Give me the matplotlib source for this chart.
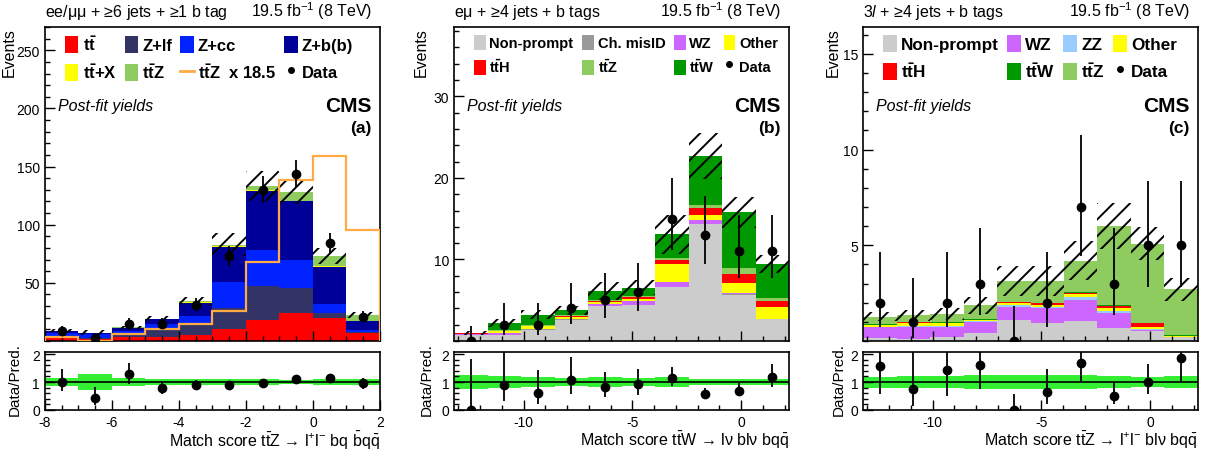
import numpy as np
import matplotlib
matplotlib.use("Agg")
import matplotlib.pyplot as plt
from matplotlib.patches import Patch
from matplotlib.lines import Line2D
from matplotlib.ticker import MultipleLocator

plt.rcParams['font.family'] = ['Liberation Sans', 'DejaVu Sans']
plt.rcParams['mathtext.fontset'] = 'custom'
plt.rcParams['mathtext.rm'] = 'Liberation Sans'
plt.rcParams['mathtext.it'] = 'Liberation Sans:italic'
plt.rcParams['mathtext.bf'] = 'Liberation Sans:bold'
plt.rcParams['hatch.linewidth'] = 1.4
plt.rcParams['axes.unicode_minus'] = False

# ---- panel (a): ee/mumu + >=6 jets + >=1 b tag
edges_a = [-8, -7, -6, -5, -4, -3, -2, -1, 0, 1, 2]
tt_a = [3.2, 1.5, 3.7, 3.2, 5.2, 10, 18, 24, 20, 7]
zlf_a = [1.0, 1.0, 2.6, 7.5, 9.4, 18, 29, 22, 4, 1]
zcc_a = [2.5, 3.5, 2.6, 4.3, 7.0, 23, 31, 24, 8, 1.5]
zbb_a = [2.0, 1.0, 2.5, 3.5, 11.5, 30, 51.2, 50, 32, 7.3]
ttx_a = [0.05, 0.05, 0.1, 0.1, 0.2, 0.3, 0.4, 0.5, 0.5, 0.2]
ttz_a = [0.2, 0.0, 0.32, 0.55, 0.8, 1.4, 3.65, 7.5, 8.62, 5.14]
unc_a = [1.2, 2.1, 1.5, 2.0, 4.0, 10, 13, 10, 7, 2.5]
data_a = [9, 3, 15, 15, 31, 73, 130, 144, 84, 21]
dlo_a = [6.0, 1.37, 11.1, 11.1, 25.5, 64.5, 119, 132, 75, 16.5]
dhi_a = [13.1, 5.92, 20.0, 20.0, 36.6, 81.5, 141.5, 156, 93, 25.6]
ttz_scale = 18.5

# ---- panel (b): e mu + >=4 jets + b tags
edges_bc = [-13.2, -11.66, -10.12, -8.58, -7.04, -5.5, -3.96, -2.42, -0.88, 0.66, 2.2]
np_b = [0.75, 0.75, 1.4, 2.6, 4.3, 4.4, 6.6, 14.3, 5.7, 2.7]
misid_b = [0.02, 0.02, 0.05, 0.05, 0.05, 0.05, 0.05, 0.05, 0.05, 0.0]
wz_b = [0.03, 0.15, 0.05, 0.05, 0.2, 0.4, 0.55, 0.45, 0.15, 0.05]
other_b = [0.1, 0.3, 0.3, 0.3, 0.25, 0.3, 2.2, 0.6, 1.2, 1.45]
tth_b = [0.02, 0.05, 0.05, 0.1, 0.1, 0.2, 0.5, 0.9, 1.1, 0.7]
ttz_b = [0.03, 0.1, 0.1, 0.1, 0.1, 0.15, 0.3, 0.4, 0.8, 0.4]
ttw_b = [0.05, 0.85, 1.27, 0.55, 1.1, 1.05, 2.9, 6.0, 6.8, 4.1]
unc_b = [0.25, 0.45, 0.55, 0.6, 1.1, 0.9, 2.4, 2.8, 1.9, 1.1]
data_b = [0, 2, 2, 4, 5, 6, 15, 13, 11, 11]
dlo_b = [0, 0.71, 0.71, 2.09, 2.84, 3.62, 11.1, 9.4, 7.7, 7.7]
dhi_b = [1.84, 4.64, 4.64, 7.16, 8.38, 9.58, 19.97, 17.8, 15.4, 15.4]

# ---- panel (c): 3l + >=4 jets + b tags
np_c = [0.14, 0.1, 0.2, 0.4, 1.1, 0.96, 1.04, 0.66, 0.5, 0.2]
wz_c = [0.57, 0.65, 0.55, 0.6, 0.69, 0.76, 1.1, 0.81, 0.07, 0.03]
zz_c = [0.02, 0.02, 0.02, 0.02, 0.08, 0.08, 0.17, 0.11, 0.05, 0.0]
other_c = [0.1, 0.18, 0.15, 0.06, 0.09, 0.1, 0.13, 0.12, 0.13, 0.01]
tth_c = [0.03, 0.03, 0.03, 0.04, 0.06, 0.06, 0.08, 0.15, 0.18, 0.04]
ttw_c = [0.02, 0.02, 0.02, 0.02, 0.04, 0.04, 0.02, 0.05, 0.03, 0.01]
ttz_c = [0.39, 0.35, 0.43, 0.73, 1.08, 1.14, 1.66, 4.1, 4.12, 2.41]
unc_c = [0.25, 0.28, 0.3, 0.45, 0.8, 0.8, 1.0, 1.2, 0.85, 0.6]
data_c = [2, 1, 2, 3, 0, 2, 7, 3, 5, 5]
dlo_c = [0.71, 0.17, 0.71, 1.37, 0, 0.71, 4.42, 1.37, 2.84, 2.84]
dhi_c = [4.64, 3.30, 4.64, 5.92, 1.84, 4.64, 10.77, 5.92, 8.38, 8.38]

TT = r'$\mathbf{t\bar{t}}$'
C_NP, C_MIS, C_WZ, C_ZZ = '#cccccc', '#999999', '#cc66ff', '#99ccff'
C_OTH, C_TTH, C_TTZ, C_TTW = '#ffff00', '#ff0000', '#8fcc5f', '#009900'

fig = plt.figure(figsize=(12.15, 4.56), dpi=100)
W = 0.2757


def panel(left, edges, comps, unc, data, dlo, dhi, ymax, ymaj, ymin_step,
          xmaj, xmin_step, title, xlabel, tag, handles, lsize, colsp, ylab_x):
    edges = np.array(edges, float)
    centers = 0.5 * (edges[1:] + edges[:-1])
    ax = fig.add_axes([left, 0.25, W, 0.6886])
    axr = fig.add_axes([left, 0.0987, W, 0.127])

    bottom = np.zeros(len(centers))
    for vals, col in comps:
        top = bottom + np.array(vals)
        ax.stairs(top, edges, baseline=bottom, fill=True, color=col, lw=0)
        bottom = top
    total = bottom
    unc = np.array(unc)
    ax.stairs(total + unc, edges, baseline=total - unc, fill=True,
              facecolor='none', edgecolor='k', hatch='//', lw=0)
    data, dlo, dhi = map(np.array, (data, dlo, dhi))
    ax.errorbar(centers, data, yerr=[data - dlo, dhi - data], fmt='o',
                color='k', ms=6, elinewidth=1.3, capsize=0, zorder=5)

    ax.set_xlim(edges[0], edges[-1])
    ax.set_ylim(0, ymax)
    ax.set_yticks(ymaj)
    ax.yaxis.set_minor_locator(MultipleLocator(ymin_step))
    ax.set_xticks(xmaj)
    ax.xaxis.set_minor_locator(MultipleLocator(xmin_step))
    ax.tick_params(labelbottom=False)
    ax.set_ylabel('Events', loc='top', fontsize=11.5)
    ax.yaxis.set_label_coords(ylab_x, 1.0)

    ax.text(0.0, 1.018, title, transform=ax.transAxes, ha='left', va='bottom', fontsize=11.5)
    ax.text(0.976, 1.018, r'19.5 fb$^{-1}$ (8 TeV)', transform=ax.transAxes,
            ha='right', va='bottom', fontsize=11.5)
    ax.text(0.975, 0.75, 'CMS', transform=ax.transAxes, ha='right', va='center',
            fontsize=15, weight='bold')
    ax.text(0.975, 0.68, tag, transform=ax.transAxes, ha='right', va='center',
            fontsize=12.5, weight='bold')
    ax.text(0.04, 0.75, 'Post-fit yields', transform=ax.transAxes, ha='left',
            va='center', fontsize=11.5, style='italic')
    ax.legend(handles=handles, ncol=4, loc='upper left', bbox_to_anchor=(0.06, 0.975),
              frameon=False, borderpad=0, borderaxespad=0, handlelength=0.8,
              handleheight=1.2, handletextpad=0.25, columnspacing=colsp,
              labelspacing=0.55, prop={'weight': 'bold', 'size': lsize})

    # ratio panel
    rel = unc / total
    axr.stairs(1 + rel, edges, baseline=1 - rel, fill=True, color='#33ee33', lw=0)
    axr.axhline(1, color='k', lw=1.2)
    ratio = data / total
    axr.errorbar(centers, ratio, yerr=[(data - dlo) / total, (dhi - data) / total],
                 fmt='o', color='k', ms=6, elinewidth=1.3, capsize=0, zorder=5)
    axr.set_xlim(edges[0], edges[-1])
    axr.set_ylim(0, 2.07)
    axr.set_yticks([0, 1, 2])
    axr.yaxis.set_minor_locator(MultipleLocator(0.2))
    axr.set_xticks(xmaj)
    axr.xaxis.set_minor_locator(MultipleLocator(xmin_step))
    axr.set_ylabel('Data/Pred.', fontsize=11)
    axr.yaxis.set_label_coords(ylab_x + 0.015, 0.54)
    axr.set_xlabel(xlabel, loc='right', fontsize=11.5)
    axr.xaxis.set_label_coords(1.0, -0.33)

    for a in (ax, axr):
        a.tick_params(which='both', direction='in', width=1, labelsize=10)
        a.tick_params(which='major', length=7)
        a.tick_params(which='minor', length=3.5)
        for s in a.spines.values():
            s.set_linewidth(1.2)
    return ax


def box(c, label):
    return Patch(facecolor=c, edgecolor='none', label=label)


dot = Line2D([], [], marker='o', ls='none', color='k', ms=4, label='Data')

# (a)
comps_a = [(tt_a, '#ff0000'), (zlf_a, '#333366'), (zcc_a, '#0022ff'),
           (zbb_a, '#000099'), (ttx_a, '#ffff00'), (ttz_a, C_TTZ)]
h_a = [box('#ff0000', TT), box('#ffff00', TT + '+X'),
       box('#333366', 'Z+lf'), box(C_TTZ, r'$\mathbf{t\bar{t}Z}$'),
       box('#0022ff', 'Z+cc'),
       Line2D([], [], color='#ffaa44', lw=2, label=r'$\mathbf{t\bar{t}Z}$  x 18.5'),
       box('#000099', 'Z+b(b)'), dot]
ax_a = panel(0.0370, edges_a, comps_a, unc_a, data_a, dlo_a, dhi_a, 270,
             [50, 100, 150, 200, 250], 10, [-8, -6, -4, -2, 0, 2], 0.5,
             r'ee/$\mathrm{\mu\mu}$ + ≥6 jets + ≥1 b tag',
             r'Match score $\mathrm{t\bar{t}Z}$ → l$^{+}$l$^{-}$ bq $\mathrm{\bar{b}q\bar{q}}$',
             '(a)', h_a, 12, 0.5, -0.083)
ax_a.stairs(np.array(ttz_a) * ttz_scale, edges_a, color='#ffaa44', lw=1.6, zorder=4)

# (b)
comps_b = [(np_b, C_NP), (misid_b, C_MIS), (wz_b, C_WZ), (other_b, C_OTH),
           (tth_b, C_TTH), (ttz_b, C_TTZ), (ttw_b, C_TTW)]
h_b = [box(C_NP, 'Non-prompt'), box(C_TTH, r'$\mathbf{t\bar{t}H}$'),
       box(C_MIS, 'Ch. misID'), box(C_TTZ, r'$\mathbf{t\bar{t}Z}$'),
       box(C_WZ, 'WZ'), box(C_TTW, r'$\mathbf{t\bar{t}W}$'),
       box(C_OTH, 'Other'), dot]
panel(0.3737, edges_bc, comps_b, unc_b, data_b, dlo_b, dhi_b, 38.5,
      [10, 20, 30], 2, [-10, -5, 0], 1,
      r'e$\mathrm{\mu}$ + ≥4 jets + b tags',
      r'Match score $\mathrm{t\bar{t}W}$ → l$\mathrm{\nu}$ bl$\mathrm{\nu}$ bq$\mathrm{\bar{q}}$',
      '(b)', h_b, 10.5, 0.6, -0.075)

# (c)
comps_c = [(np_c, C_NP), (wz_c, C_WZ), (zz_c, C_ZZ), (other_c, C_OTH),
           (tth_c, C_TTH), (ttw_c, C_TTW), (ttz_c, C_TTZ)]
h_c = [box(C_NP, 'Non-prompt'), box(C_TTH, r'$\mathbf{t\bar{t}H}$'),
       box(C_WZ, 'WZ'), box(C_TTW, r'$\mathbf{t\bar{t}W}$'),
       box(C_ZZ, 'ZZ'), box(C_TTZ, r'$\mathbf{t\bar{t}Z}$'),
       box(C_OTH, 'Other'), dot]
panel(0.7103, edges_bc, comps_c, unc_c, data_c, dlo_c, dhi_c, 16.4,
      [5, 10, 15], 1, [-10, -5, 0], 1,
      r'3$\mathit{l}$ + ≥4 jets + b tags',
      r'Match score $\mathrm{t\bar{t}Z}$ → l$^{+}$l$^{-}$ bl$\mathrm{\nu}$ bq$\mathrm{\bar{q}}$',
      '(c)', h_c, 12.3, 0.5, -0.067)

fig.savefig('out.png', dpi=100)
